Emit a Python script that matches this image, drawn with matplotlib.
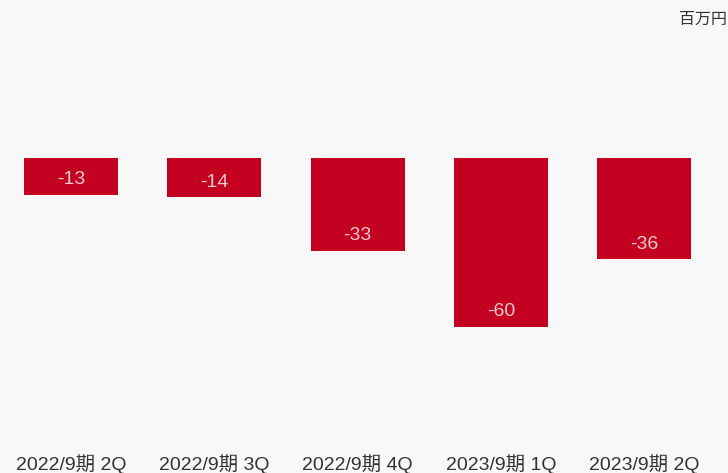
import numpy as np
import matplotlib
matplotlib.use("Agg")
import matplotlib.pyplot as plt

plt.rcParams['font.family'] = ['Liberation Sans', 'Noto Sans CJK JP', 'DejaVu Sans']

periods = ["2022/9期 2Q", "2022/9期 3Q", "2022/9期 4Q", "2023/9期 1Q", "2023/9期 2Q"]
values = [-13, -14, -33, -60, -36]
unit = "百万円"

bg = "#f8f8f8"
fig = plt.figure(figsize=(7.28, 4.73), dpi=100, facecolor=bg)
ax = fig.add_axes([0, 0, 1, 1])
ax.set_facecolor(bg)

x = np.arange(len(values))
ax.bar(x, values, width=0.656, color="#c3001f", align="center")

# value labels sit inside the bar, near its lower end
for xi, v in zip(x, values):
    ax.text(xi, v + 5.4, f"{v}", ha="center", va="center", color="#f6c9d0", fontsize=14)

for xi, lab in zip(x, periods):
    ax.text(xi, 0.019, lab, transform=ax.get_xaxis_transform(), ha="center", va="center",
            color="#333333", fontsize=14)

fig.text(0.998, 0.96, unit, ha="right", va="center", color="#333333", fontsize=11.5,
         family=['Noto Sans CJK JP'])

ax.set_xlim(-0.4956, 4.586)
ax.set_ylim(-111.8, 56.1)
ax.axis("off")

fig.savefig("out.png", dpi=100, facecolor=bg)
